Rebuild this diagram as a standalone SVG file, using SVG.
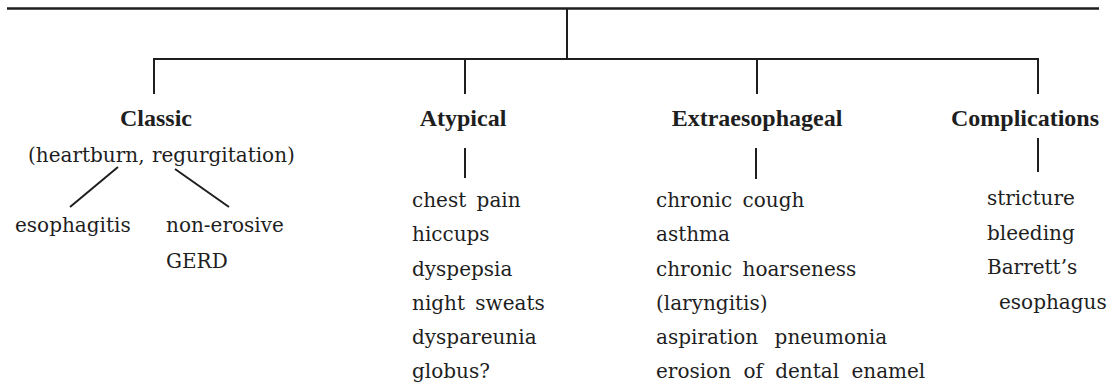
<svg xmlns="http://www.w3.org/2000/svg" width="1116" height="387" viewBox="0 0 1116 387">
<style>
.ln{stroke:#1e1e1e;stroke-width:2;fill:none;stroke-linecap:butt}
.hd{font-family:"Liberation Serif","Times New Roman",serif;font-weight:bold;font-size:24px;fill:#1e1e1e}
.tx{font-family:"DejaVu Serif","Liberation Serif",serif;font-size:20px;fill:#1e1e1e;word-spacing:4px}
</style>
<rect width="1116" height="387" fill="#ffffff"/>
<g id="connectors">
<line class="ln" x1="7" y1="8.5" x2="1099" y2="8.5" style="stroke-width:2.5"/>
<line class="ln" x1="567" y1="8.5" x2="567" y2="59"/>
<line class="ln" x1="153" y1="59" x2="1039" y2="59"/>
<line class="ln" x1="154" y1="59" x2="154" y2="94"/>
<line class="ln" x1="465" y1="59" x2="465" y2="94"/>
<line class="ln" x1="757" y1="59" x2="757" y2="94"/>
<line class="ln" x1="1038" y1="59" x2="1038" y2="94"/>
<line class="ln" x1="118" y1="167" x2="70" y2="207"/>
<line class="ln" x1="175" y1="169" x2="229" y2="207"/>
<line class="ln" x1="465" y1="148" x2="465" y2="178"/>
<line class="ln" x1="756" y1="148" x2="756" y2="179"/>
<line class="ln" x1="1038" y1="138" x2="1038" y2="172"/>
</g>
<g id="classic">
<text class="hd" x="156" y="126" text-anchor="middle">Classic</text>
<text class="tx" x="28" y="162" style="word-spacing:1px">(heartburn, regurgitation)</text>
</g>
<g id="esophagitis">
<text class="tx" x="15" y="232">esophagitis</text>
</g>
<g id="non-erosive">
<text class="tx" x="166" y="232">non-erosive</text>
<text class="tx" x="166" y="268">GERD</text>
</g>
<g id="atypical">
<text class="hd" x="463" y="126" text-anchor="middle">Atypical</text>
<text class="tx" x="412" y="207">chest pain</text>
<text class="tx" x="412" y="241">hiccups</text>
<text class="tx" x="412" y="276">dyspepsia</text>
<text class="tx" x="412" y="310">night sweats</text>
<text class="tx" x="412" y="344">dyspareunia</text>
<text class="tx" x="412" y="378">globus?</text>
</g>
<g id="extraesophageal">
<text class="hd" x="757" y="126" text-anchor="middle">Extraesophageal</text>
<text class="tx" x="656" y="207">chronic cough</text>
<text class="tx" x="656" y="241">asthma</text>
<text class="tx" x="656" y="276">chronic hoarseness</text>
<text class="tx" x="656" y="310">(laryngitis)</text>
<text class="tx" x="656" y="344" style="word-spacing:10px">aspiration pneumonia</text>
<text class="tx" x="656" y="378" style="word-spacing:6px">erosion of dental enamel</text>
</g>
<g id="complications">
<text class="hd" x="1025" y="126" text-anchor="middle">Complications</text>
<text class="tx" x="987" y="205">stricture</text>
<text class="tx" x="987" y="240">bleeding</text>
<text class="tx" x="987" y="274">Barrett’s</text>
<text class="tx" x="999" y="309">esophagus</text>
</g>
</svg>
